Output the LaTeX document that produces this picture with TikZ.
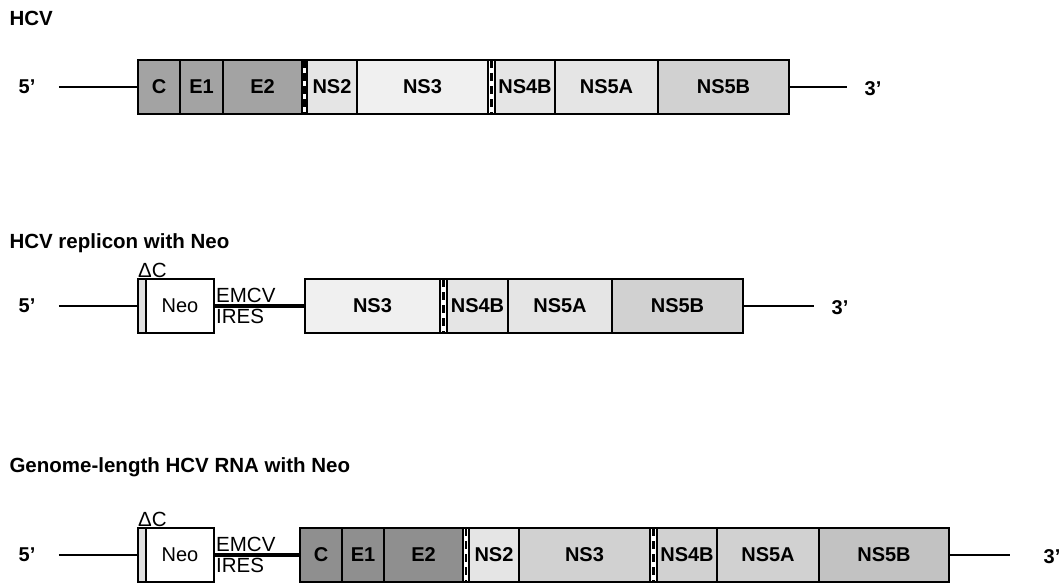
\documentclass[tikz,border=0pt]{standalone}
\usepackage{fontspec}
\setmainfont{Liberation Sans}
\usetikzlibrary{positioning}
\definecolor{coregray}{gray}{0.64}
\definecolor{coredeep}{gray}{0.56}
\definecolor{nsfaint}{gray}{0.94}
\definecolor{nslight}{gray}{0.90}
\definecolor{nsmid}{gray}{0.82}
\definecolor{nsdeep}{gray}{0.76}

\tikzset{
  seg/.style={draw, line width=1.4pt, inner sep=0pt, outer sep=0pt,
    minimum height=54pt, font=\fontsize{20}{22}\selectfont\bfseries},
  cut/.style={draw, line width=1.4pt, fill=white, inner sep=0pt, outer sep=0pt,
    minimum height=54pt, minimum width=6pt,
    path picture={\draw[line width=2.6pt, dash pattern=on 8pt off 5pt]
      (path picture bounding box.north) -- (path picture bounding box.south);}},
  stub/.style={draw, line width=1.4pt, fill=black!12, inner sep=0pt, outer sep=0pt,
    minimum height=54pt, minimum width=8pt},
  tag/.style={font=\fontsize{20}{22}\selectfont\bfseries},
  plain/.style={font=\fontsize{20.5}{22}\selectfont},
  heading/.style={anchor=west, font=\fontsize{20.5}{23}\selectfont\bfseries},
  rna/.style={line width=1.3pt},
  ires/.style={line width=4.5pt},
}

\begin{document}
\begin{tikzpicture}[x=1pt, y=-1pt]
    \useasboundingbox (0,0) rectangle (1063,586);

    % HCV
    \node[heading] (t1) at (6,18) {HCV};
    \node[tag] (p5a) at (27,87) {5'};
    \node[seg, fill=coregray, minimum width=42pt, anchor=west] (c1) at (138,87) {C};
    \node[seg, fill=coregray, minimum width=43pt, right=0pt of c1] (e11) {E1};
    \node[seg, fill=coregray, minimum width=79pt, right=0pt of e11] (e21) {E2};
    \node[cut, minimum width=5pt, right=0pt of e21] (p71) {};
    \node[seg, fill=nslight, minimum width=50pt, right=0pt of p71] (ns21) {NS2};
    \node[seg, fill=nsfaint, minimum width=131pt, right=0pt of ns21] (ns31) {NS3};
    \node[cut, minimum width=7pt, right=0pt of ns31] (ns4a1) {};
    \node[seg, fill=nslight, minimum width=60pt, right=0pt of ns4a1] (ns4b1) {NS4B};
    \node[seg, fill=nslight, minimum width=103pt, right=0pt of ns4b1] (ns5a1) {NS5A};
    \node[seg, fill=nsmid, minimum width=131pt, right=0pt of ns5a1] (ns5b1) {NS5B};
    \node[tag] (p3a) at (873,89) {3'};
    \draw[rna] ([xshift=20pt]p5a.east |- c1.west) -- (c1.west);
    \draw[rna] (ns5b1.east) -- ([xshift=-14pt]p3a.west |- ns5b1.east);

    % replicon
    \node[heading] (t2) at (6,243) {HCV replicon with Neo};
    \node[tag] (p5b) at (27,306) {5'};
    \node[stub, anchor=west] (dc2) at (138,306) {};
    \node[seg, fill=white, font=\fontsize{20}{22}\selectfont, minimum width=68pt,
          right=0pt of dc2] (neo2) {Neo};
    \node[plain, anchor=south west, inner sep=0pt] (dcl2) at ([yshift=1pt]dc2.north west) {ΔC};
    \node[seg, fill=nsfaint, minimum width=135pt, anchor=west] (ns32) at (305,306) {NS3};
    \node[cut, minimum width=7pt, right=0pt of ns32] (ns4a2) {};
    \node[seg, fill=nslight, minimum width=61pt, right=0pt of ns4a2] (ns4b2) {NS4B};
    \node[seg, fill=nslight, minimum width=104pt, right=0pt of ns4b2] (ns5a2) {NS5A};
    \node[seg, fill=nsmid, minimum width=131pt, right=0pt of ns5a2] (ns5b2) {NS5B};
    \node[tag] (p3b) at (840,308) {3'};
    \draw[rna] ([xshift=20pt]p5b.east |- dc2.west) -- (dc2.west);
    \draw[ires] (neo2.east) -- (ns32.west);
    \node[plain, anchor=south west, inner sep=1pt] (emcv2) at ([xshift=1pt, yshift=2pt]neo2.east) {EMCV};
    \node[plain, anchor=north west, inner sep=1pt] (ires2) at ([xshift=1pt, yshift=-2pt]neo2.east) {IRES};
    \draw[rna] (ns5b2.east) -- ([xshift=-14pt]p3b.west |- ns5b2.east);

    % genome-length
    \node[heading] (t3) at (6,467) {Genome-length HCV RNA with Neo};
    \node[tag] (p5c) at (27,555) {5'};
    \node[stub, anchor=west] (dc3) at (138,555) {};
    \node[seg, fill=white, font=\fontsize{20}{22}\selectfont, minimum width=68pt,
          right=0pt of dc3] (neo3) {Neo};
    \node[plain, anchor=south west, inner sep=0pt] (dcl3) at ([yshift=1pt]dc3.north west) {ΔC};
    \node[seg, fill=coredeep, minimum width=42pt, anchor=west] (c3) at (300,555) {C};
    \node[seg, fill=coredeep, minimum width=42pt, right=0pt of c3] (e13) {E1};
    \node[seg, fill=coredeep, minimum width=79pt, right=0pt of e13] (e23) {E2};
    \node[cut, minimum width=6pt, right=0pt of e23] (p73) {};
    \node[seg, fill=nslight, minimum width=50pt, right=0pt of p73] (ns23) {NS2};
    \node[seg, fill=nsmid, minimum width=131pt, right=0pt of ns23] (ns33) {NS3};
    \node[cut, minimum width=7pt, right=0pt of ns33] (ns4a3) {};
    \node[seg, fill=nsmid, minimum width=60pt, right=0pt of ns4a3] (ns4b3) {NS4B};
    \node[seg, fill=nsmid, minimum width=102pt, right=0pt of ns4b3] (ns5a3) {NS5A};
    \node[seg, fill=nsdeep, minimum width=130pt, right=0pt of ns5a3] (ns5b3) {NS5B};
    \node[tag] (p3c) at (1052,557) {3'};
    \draw[rna] ([xshift=20pt]p5c.east |- dc3.west) -- (dc3.west);
    \draw[ires] (neo3.east) -- (c3.west);
    \node[plain, anchor=south west, inner sep=1pt] (emcv3) at ([xshift=1pt, yshift=2pt]neo3.east) {EMCV};
    \node[plain, anchor=north west, inner sep=1pt] (ires3) at ([xshift=1pt, yshift=-2pt]neo3.east) {IRES};
    \draw[rna] (ns5b3.east) -- ([xshift=-30pt]p3c.west |- ns5b3.east);

\end{tikzpicture}
\end{document}
